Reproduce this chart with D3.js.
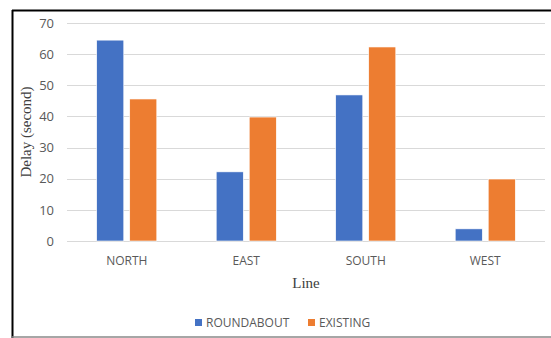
<!DOCTYPE html>
<html><head><meta charset="utf-8">
<script src="https://cdn.jsdelivr.net/npm/d3@7"></script>
<style>body{margin:0;background:#fff}svg{display:block}</style>
</head><body>
<script>
const categories = ["NORTH","EAST","SOUTH","WEST"];
const seriesNames = ["ROUNDABOUT","EXISTING"];
const roundabout = [64.5, 22.2, 46.9, 3.9];
const existing = [45.6, 39.8, 62.3, 19.9];
const yTicks = [0,10,20,30,40,50,60,70];
const colors = ["#4472C4","#ED7D31"];

const W=551,H=338;
const svg=d3.select("body").append("svg").attr("width",W).attr("height",H);
svg.append("rect").attr("width",W).attr("height",H).attr("fill","#fff");
// frame
svg.append("line").attr("x1",12.5).attr("x2",12.5).attr("y1",10).attr("y2",338).attr("stroke","#000").attr("stroke-width",2);
svg.append("line").attr("x1",12).attr("x2",551).attr("y1",10.5).attr("y2",10.5).attr("stroke","#000").attr("stroke-width",2);
svg.append("line").attr("x1",12).attr("x2",551).attr("y1",337).attr("y2",337).attr("stroke","#888").attr("stroke-width",1.5);

const x0=d3.scaleBand().domain(categories).range([67,545]).paddingInner(0).paddingOuter(0);
const x1=d3.scaleBand().domain(seriesNames).range([0,x0.bandwidth()]).paddingInner(0.18).paddingOuter(0.9);
const y=d3.scaleLinear().domain([0,70]).range([241,23]);

const font="'Open Sans', 'Liberation Sans', sans-serif";
// grid
svg.append("g").selectAll("line").data(yTicks).join("line")
 .attr("x1",67).attr("x2",545).attr("y1",d=>Math.round(y(d))+0.5).attr("y2",d=>Math.round(y(d))+0.5)
 .attr("stroke","#d9d9d9").attr("stroke-width",1);

const yAxis=svg.append("g").attr("transform","translate(67,0)")
 .call(d3.axisLeft(y).tickValues(yTicks).tickSize(0).tickPadding(13));
yAxis.select(".domain").remove();
yAxis.selectAll("text").attr("font-family",font).attr("font-size",13).attr("fill","#595959");

const data=categories.map((c,i)=>({c,vals:[roundabout[i],existing[i]]}));
svg.append("g").selectAll("g").data(data).join("g")
 .attr("transform",d=>`translate(${x0(d.c)},0)`)
 .selectAll("rect").data(d=>d.vals.map((v,j)=>({s:seriesNames[j],v,j}))).join("rect")
 .attr("x",d=>x1(d.s)).attr("width",x1.bandwidth())
 .attr("y",d=>y(d.v)).attr("height",d=>y(0)-y(d.v))
 .attr("fill",d=>colors[d.j]).attr("stroke","#fff").attr("stroke-width",0.6);

const xAxis=svg.append("g").attr("transform","translate(0,241)")
 .call(d3.axisBottom(x0).tickSize(0).tickPadding(15));
xAxis.select(".domain").remove();
xAxis.selectAll("text").attr("font-family",font).attr("font-size",12).attr("fill","#595959");

svg.append("text").attr("x",306).attr("y",288).attr("text-anchor","middle")
 .attr("font-family","'Liberation Serif', serif").attr("font-size",15).attr("fill","#404040").text("Line");
svg.append("text").attr("transform","translate(31,132) rotate(-90)").attr("text-anchor","middle")
 .attr("font-family","'Liberation Serif', serif").attr("font-size",15).attr("fill","#404040").text("Delay (second)");

// legend
const leg=svg.append("g").attr("transform","translate(195,327)");
const items=[{n:seriesNames[0],c:colors[0],x:0},{n:seriesNames[1],c:colors[1],x:113}];
items.forEach(it=>{
 leg.append("rect").attr("x",it.x).attr("y",-8).attr("width",7).attr("height",7).attr("fill",it.c);
 leg.append("text").attr("x",it.x+11).attr("y",0).attr("font-family",font).attr("font-size",12).attr("fill","#595959").text(it.n);
});
</script>
</body></html>
